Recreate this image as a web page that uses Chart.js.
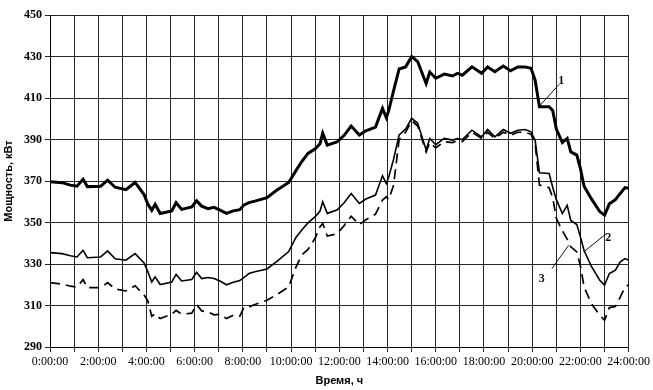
<!DOCTYPE html>
<html>
<head>
<meta charset="utf-8">
<script src="https://cdn.jsdelivr.net/npm/chart.js@4.4.1/dist/chart.umd.min.js"></script>
<style>
  body { margin: 0; background: #fff; }
  canvas { display: block; }
</style>
</head>
<body>
<canvas id="myChart" width="653" height="390"></canvas>
<script>
// время суток, ч
const hours = [
    0, 0.5, 0.85, 1.12, 1.37, 1.55, 2.1, 2.39, 2.7, 3.15, 3.53, 3.9, 4.05, 4.22, 4.36, 4.57,
    5.05, 5.23, 5.46, 5.88, 6.08, 6.29, 6.55, 6.8, 7.05, 7.32, 7.6, 7.87, 8.05, 8.25, 8.5, 9.0,
    9.4, 9.9, 10.2, 10.45, 10.7, 11.0, 11.2, 11.31, 11.5, 11.9, 12.2, 12.49, 12.83, 13.1, 13.5,
    13.79, 13.95, 14.05, 14.25, 14.48, 14.75, 15.0, 15.25, 15.6, 15.75, 16.0, 16.35, 16.7, 16.9,
    17.1, 17.5, 17.9, 18.15, 18.45, 18.8, 19.1, 19.4, 19.7, 19.95, 20.12, 20.3, 20.7, 20.85, 21.0,
    21.25, 21.45, 21.6, 21.85, 22.0, 22.15, 22.45, 22.8, 23.0, 23.2, 23.45, 23.65, 23.85, 24.0
];

// кривая 1
const power1 = [
    369.6, 369.2, 368, 367.5, 370.8, 367.3, 367.5, 370.4, 367, 365.8, 369.3, 363.5, 359, 355.9, 358.8, 354.3,
    355.6, 359.5, 356.3, 357.5, 360.5, 357.9, 356.7, 357.3, 356, 354.4, 355.6, 356.2, 358.5, 359.6, 360.3, 362,
    365.5, 369.3, 375, 379.5, 383.3, 385.5, 388, 393, 387.3, 388.8, 392, 396.5, 392.2, 394.2, 396,
    405, 400.5, 404, 413.5, 424, 425, 430, 427.5, 417, 422.5, 419.5, 421.5, 420.6, 421.9,
    421, 425, 421.9, 425, 422.7, 425.4, 423.1, 425, 425, 424.3, 418.6, 405.8, 405.8, 404, 395,
    388.5, 390.5, 384, 382.5, 376, 367.5, 361.5, 355.3, 353.5, 359, 361, 364, 366.8, 366.5
];

// кривая 2
const power2 = [
    335.5, 335, 334, 333.4, 336.6, 333, 333.4, 336.3, 332.5, 331.8, 335, 330.5, 326.5, 321.3, 323.8, 320.1,
    321.3, 325, 321.8, 322.5, 326, 323, 323.5, 323, 321.8, 320, 321.2, 322, 323.6, 325.4, 326.3, 327.6,
    331.2, 336, 342.8, 346.5, 349.8, 352.8, 355.5, 360, 354.4, 356, 359.5, 364, 359.2, 361.3, 363.2,
    372.5, 368.8, 372, 380.5, 392.2, 395, 400.2, 397.8, 385, 390.5, 387.5, 390.5, 389.7, 390.5,
    390, 394.5, 391.3, 394.8, 391.3, 394.8, 393, 394.5, 394.8, 393.7, 389.7, 374, 373.6, 367, 361,
    354.3, 358.3, 351, 349, 343, 336.5, 329, 322.2, 319.8, 325.4, 327, 331, 332.6, 331.8
];

// кривая 3 (пунктир)
const power3 = [
    321, 320.3, 319.3, 318.9, 322.5, 318.6, 318.6, 321, 318, 317, 319.5, 315, 312.5, 304.8, 306, 303.7,
    305.8, 307.7, 305.8, 306.3, 310.5, 307.4, 306.9, 305.5, 305.8, 303.7, 305.3, 304.8, 309.3, 309.3, 310.5, 312.5,
    315.2, 319, 328.5, 334.5, 337, 342.5, 348, 349.5, 343.5, 344.5, 348.5, 353, 349, 351.3, 354,
    360.8, 362.4, 361, 368, 390, 393.5, 399, 396.5, 384, 388.5, 386, 389, 388.5, 389.5,
    389, 393.5, 390.5, 393.5, 390.5, 393.5, 392, 393.5, 393.5, 392.5, 388, 368, 366.8, 362, 352,
    346, 342, 338.3, 335.8, 329, 319, 311, 305.3, 302.9, 309, 309.5, 314, 318.9, 320
];

const yTicks = [290, 310, 330, 350, 370, 390, 410, 430, 450];

const toPoints = values => hours.map( ( h, i ) => ( { x: h, y: values[i] } ) );

const fmtHour = h => h % 2 === 0 ? h + ':00:00' : '';

// подписи кривых с выносками (в координатах графика)
const callouts = [
    { text: '1', at: [21.2, 418.3], line: [[21.12, 416.6], [20.34, 406.6]] },
    { text: '2', at: [23.15, 342.8], line: [[23.07, 344.6], [22.13, 335.8]] },
    { text: '3', at: [20.4, 322.6], line: [[20.82, 327.8], [21.51, 339]] },
];

const calloutPlugin = {
    id: 'callouts',
    afterDatasetsDraw( chart ) {
        const { ctx, scales: { x, y } } = chart;
        ctx.save();
        ctx.strokeStyle = '#111';
        ctx.lineWidth = 1;
        ctx.fillStyle = '#111';
        ctx.font = 'bold 12px "Liberation Serif"';
        ctx.textAlign = 'center';
        ctx.textBaseline = 'middle';
        for ( let c of callouts ) {
            ctx.beginPath();
            ctx.moveTo( x.getPixelForValue( c.line[0][0] ), y.getPixelForValue( c.line[0][1] ) );
            ctx.lineTo( x.getPixelForValue( c.line[1][0] ), y.getPixelForValue( c.line[1][1] ) );
            ctx.stroke();
            ctx.fillText( c.text, x.getPixelForValue( c.at[0] ), y.getPixelForValue( c.at[1] ) );
        }
        ctx.restore();
    }
};

const gridColor = 'rgba(0,0,0,0.85)';

new Chart( document.getElementById( 'myChart' ).getContext( '2d' ), {
    type: 'line',
    data: {
        datasets: [
            {
                label: '1',
                data: toPoints( power1 ),
                borderColor: '#000',
                borderWidth: 3,
                pointRadius: 0,
                tension: 0,
            },
            {
                label: '2',
                data: toPoints( power2 ),
                borderColor: '#000',
                borderWidth: 1.6,
                pointRadius: 0,
                tension: 0,
            },
            {
                label: '3',
                data: toPoints( power3 ),
                borderColor: '#000',
                borderWidth: 1.7,
                borderDash: [10, 6],
                pointRadius: 0,
                tension: 0,
            }
        ]
    },
    options: {
        responsive: false,
        animation: false,
        devicePixelRatio: 1,
        layout: { padding: { top: 15, right: 23, bottom: 0, left: 0 } },
        plugins: {
            legend: { display: false },
            tooltip: { enabled: false },
        },
        scales: {
            x: {
                type: 'linear',
                min: 0,
                max: 24,
                afterFit: scale => { scale.height = 43; },
                ticks: {
                    stepSize: 1,
                    autoSkip: false,
                    maxRotation: 0,
                    padding: 3,
                    color: '#000',
                    font: { family: 'Liberation Serif', size: 12 },
                    callback: fmtHour,
                },
                grid: { color: gridColor, lineWidth: 1, tickLength: 5, tickColor: gridColor },
                border: { color: '#000', width: 1 },
                title: {
                    display: true,
                    text: 'Время, ч',
                    color: '#000',
                    font: { family: 'Liberation Sans', size: 11, weight: 'bold' },
                    padding: { top: 2, bottom: 2 },
                },
            },
            y: {
                min: 290,
                max: 450,
                afterFit: scale => { scale.width = 50; },
                afterBuildTicks: scale => { scale.ticks = yTicks.map( v => ( { value: v } ) ); },
                ticks: {
                    padding: 3,
                    color: '#000',
                    font: { family: 'Liberation Serif', size: 12, weight: 'bold' },
                },
                grid: { color: gridColor, lineWidth: 1, tickLength: 5, tickColor: gridColor },
                border: { color: '#000', width: 1 },
                title: {
                    display: true,
                    text: 'Мощность, кВт',
                    color: '#000',
                    font: { family: 'Liberation Sans', size: 11, weight: 'bold' },
                    padding: { top: 2, bottom: 2 },
                },
            }
        }
    },
    plugins: [calloutPlugin]
} );
</script>
</body>
</html>
